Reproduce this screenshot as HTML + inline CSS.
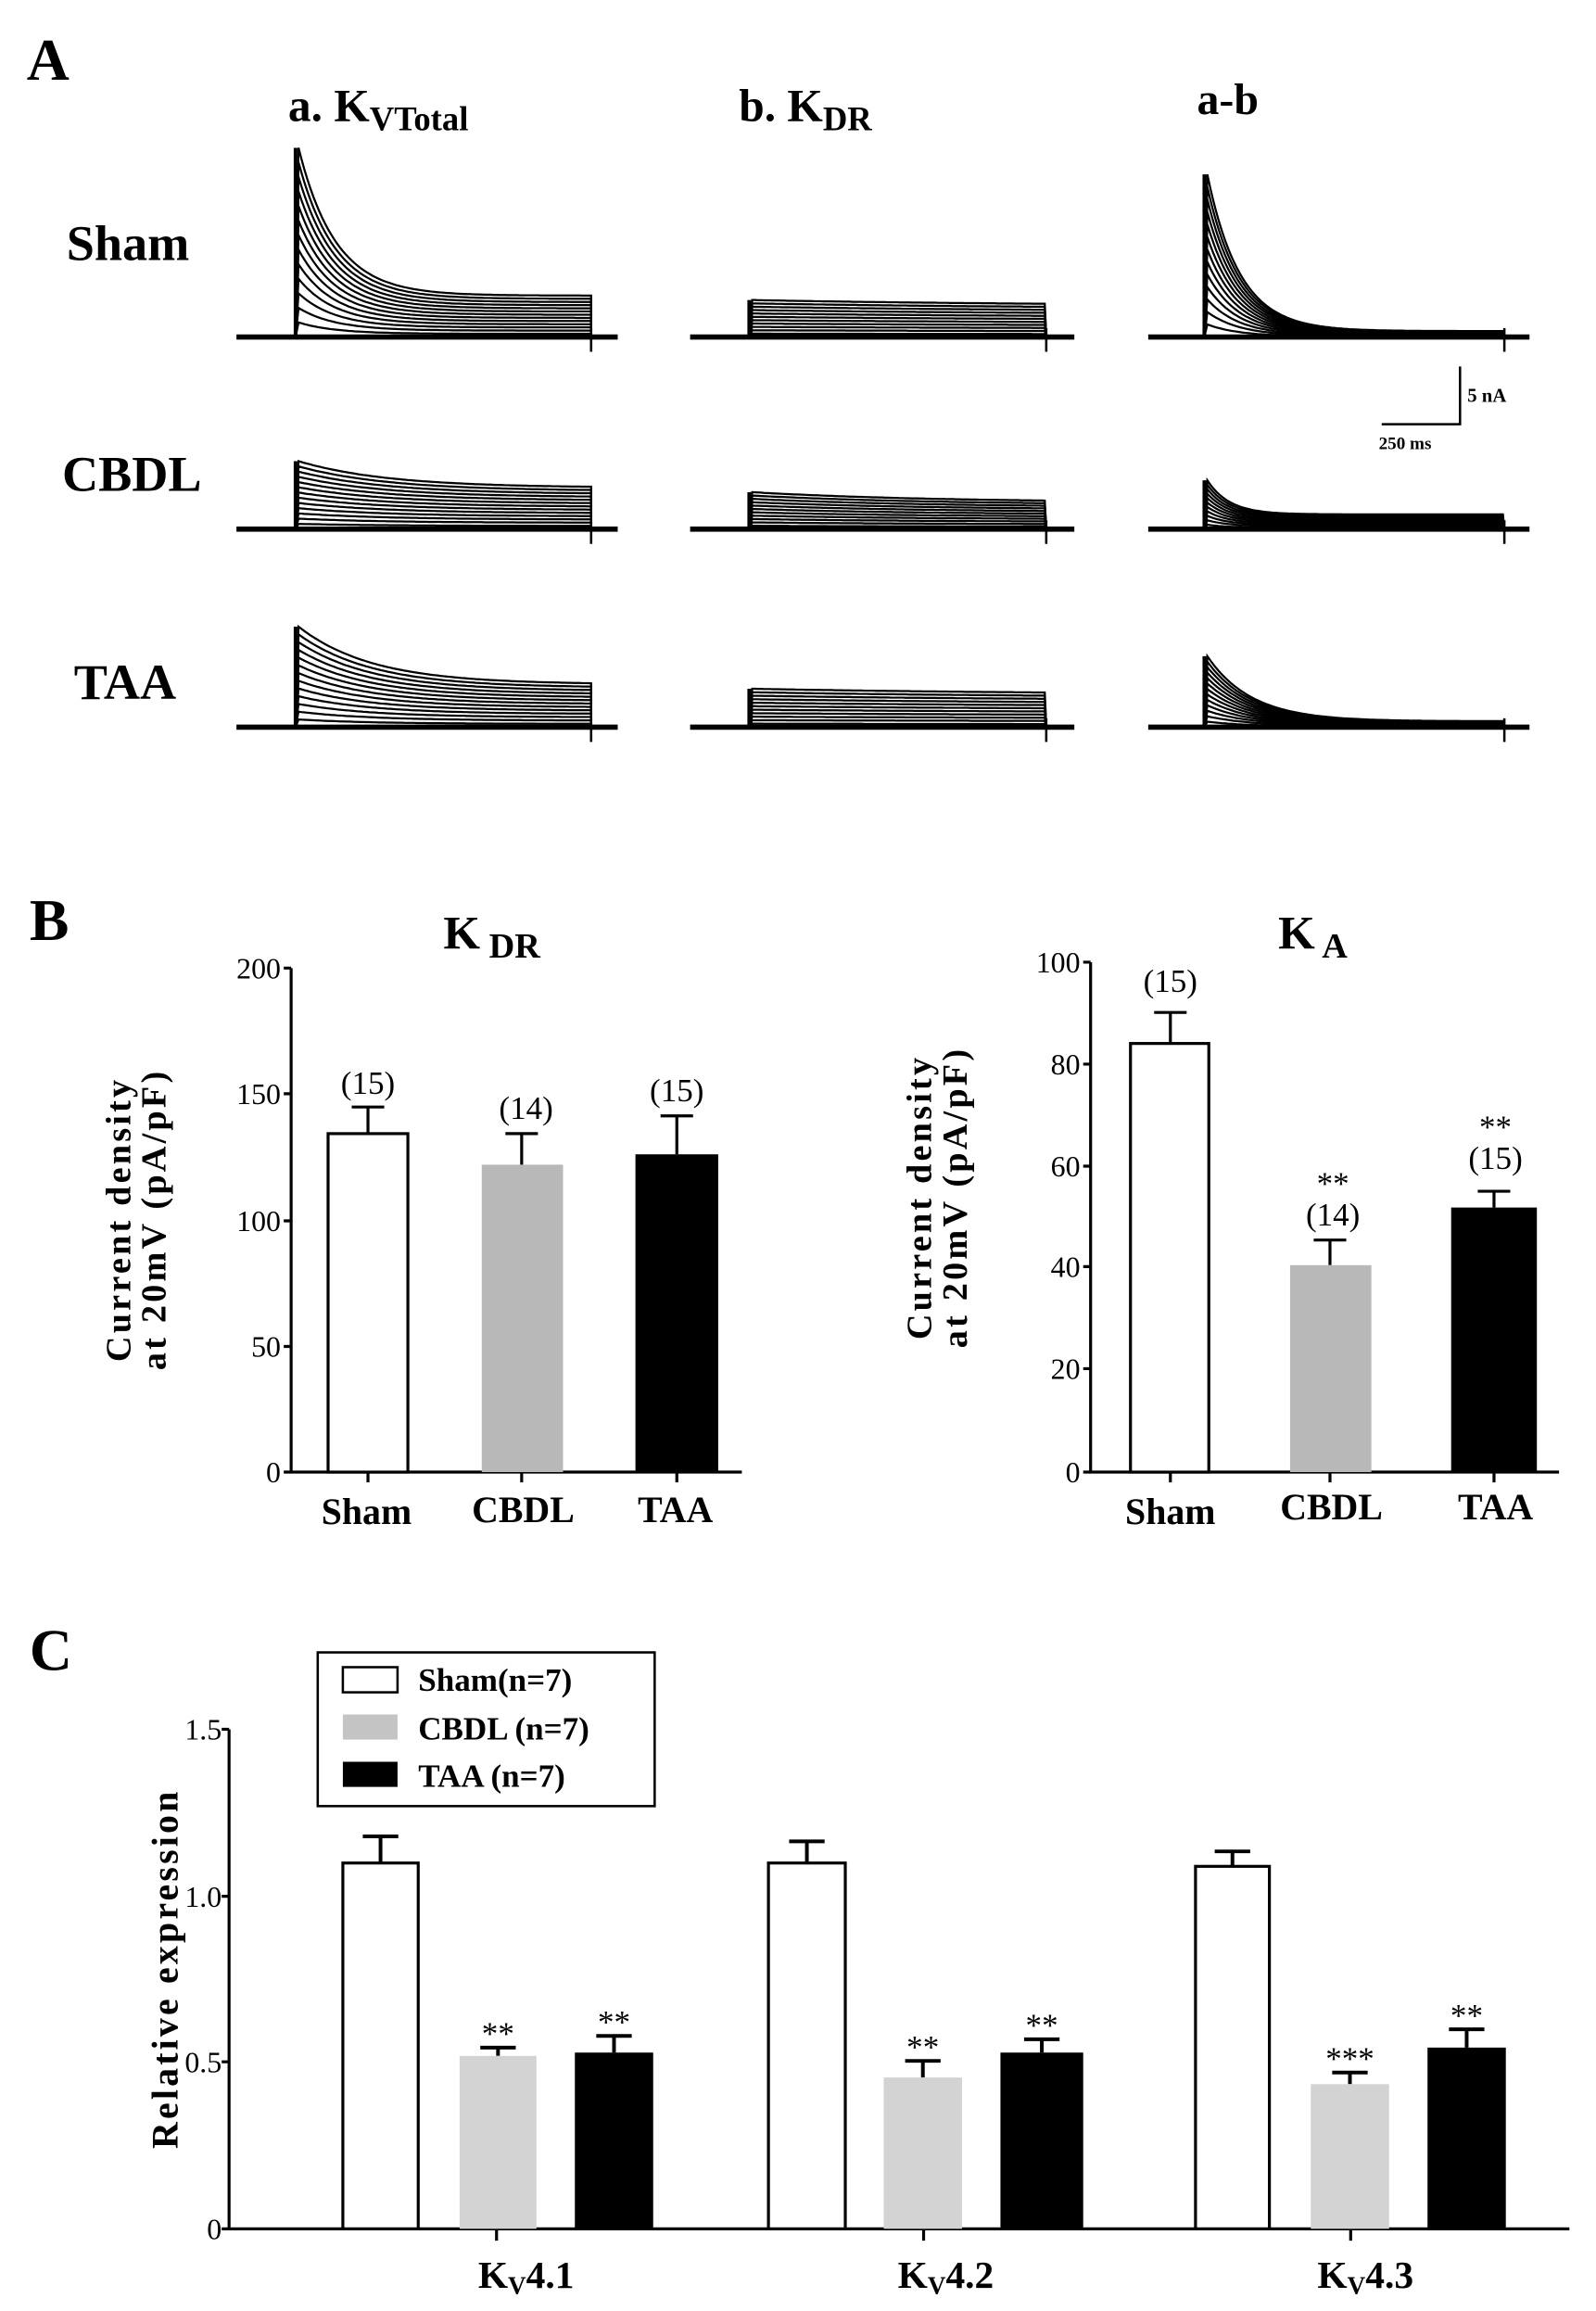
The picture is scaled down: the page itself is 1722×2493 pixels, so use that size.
<!DOCTYPE html>
<html><head><meta charset="utf-8"><style>
html,body{margin:0;padding:0;background:#fff;}
svg{display:block;}
text{font-family:"Liberation Serif",serif;fill:#000;}
.b{font-weight:bold;}
</style></head><body>
<svg id="s" width="1722" height="2493" viewBox="0 0 1080 1563.6" xmlns="http://www.w3.org/2000/svg">
<rect width="1080" height="1564" fill="#fff"/>
<!-- Panel A -->
<text x="18" y="54" class="b" font-size="40">A</text>
<text x="195" y="82" class="b" font-size="31">a. K<tspan font-size="23" dy="6">VTotal</tspan></text>
<text x="500" y="82" class="b" font-size="31">b. K<tspan font-size="23" dy="6">DR</tspan></text>
<text x="810" y="77" class="b" font-size="30">a-b</text>
<text x="45" y="176" class="b" font-size="34">Sham</text>
<text x="42" y="332" class="b" font-size="34">CBDL</text>
<text x="50" y="473" class="b" font-size="34">TAA</text>
<g id="traces" fill="none" stroke="#000" stroke-width="1.4"></g>
<!-- scale bar -->
<path d="M988 248 V287 H935" fill="none" stroke="#000" stroke-width="1.6"/>
<text x="993" y="272" font-size="13" class="b">5 nA</text>
<text x="933" y="304" font-size="12" class="b">250 ms</text>

<!-- Panel B -->
<text x="20" y="636" class="b" font-size="40">B</text>
<text x="300" y="642" class="b" font-size="32">K<tspan font-size="24" dy="6"> DR</tspan></text>
<text x="865" y="642" class="b" font-size="32">K<tspan font-size="24" dy="6"> A</tspan></text>
<g font-size="20" text-anchor="end">
<text x="190" y="662">200</text><text x="190" y="747">150</text><text x="190" y="833">100</text><text x="190" y="918">50</text><text x="190" y="1003">0</text>
<text x="731" y="658">100</text><text x="731" y="727">80</text><text x="731" y="796">60</text><text x="731" y="864">40</text><text x="731" y="933">20</text><text x="731" y="1003">0</text>
</g>
<g stroke="#000" stroke-width="2" fill="none">
<path d="M197 655 V996 H502"/>
<path d="M192 655H197M192 740H197M192 826H197M192 911H197M192 996H197"/>
<path d="M249 996V1003M353 996V1003M458 996V1003"/>
<path d="M738 651 V996 H1055"/>
<path d="M733 651H738M733 720H738M733 789H738M733 857H738M733 926H738M733 996H738"/>
<path d="M792 996V1003M900 996V1003M1011 996V1003"/>
</g>
<rect x="222" y="767" width="54" height="229" fill="#fff" stroke="#000" stroke-width="2"/>
<rect x="326" y="788" width="55" height="208" fill="#b8b8b8"/>
<rect x="430" y="781" width="56" height="215" fill="#000"/>
<g stroke="#000" stroke-width="2">
<path d="M249 767V749M238 749H260"/>
<path d="M353 788V767M342 767H364"/>
<path d="M458 781V755M447 755H469"/>
<path d="M792 706V685M781 685H803"/>
<path d="M900 856V839M889 839H911"/>
<path d="M1011 817V806M1000 806H1022"/>
</g>
<rect x="765" y="706" width="53" height="290" fill="#fff" stroke="#000" stroke-width="2"/>
<rect x="873" y="856" width="55" height="140" fill="#b8b8b8"/>
<rect x="982" y="817" width="58" height="179" fill="#000"/>
<g font-size="22" text-anchor="middle">
<text x="249" y="740">(15)</text><text x="356" y="757">(14)</text><text x="458" y="745">(15)</text>
<text x="792" y="671">(15)</text>
<text x="902" y="808">**</text><text x="902" y="829">(14)</text>
<text x="1012" y="770">**</text><text x="1012" y="791">(15)</text>
</g>
<g font-size="25" class="b" text-anchor="middle">
<text x="248" y="1031">Sham</text><text x="354" y="1030">CBDL</text><text x="457" y="1030">TAA</text>
<text x="792" y="1031">Sham</text><text x="901" y="1028">CBDL</text><text x="1012" y="1028">TAA</text>
</g>
<g font-size="24" class="b" text-anchor="middle" letter-spacing="2">
<text transform="translate(88,825) rotate(-90)">Current density</text>
<text transform="translate(112,825) rotate(-90)">at 20mV (pA/pF)</text>
<text transform="translate(630,810) rotate(-90)">Current density</text>
<text transform="translate(654,810) rotate(-90)">at 20mV (pA/pF)</text>
</g>

<!-- Panel C -->
<text x="20" y="1130" class="b" font-size="40">C</text>
<g font-size="20" text-anchor="end">
<text x="150" y="1177">1.5</text><text x="150" y="1290">1.0</text><text x="150" y="1402">0.5</text><text x="150" y="1515">0</text>
</g>
<g stroke="#000" stroke-width="2" fill="none">
<path d="M155 1170 V1508 H1062"/>
<path d="M150 1170H155M150 1283H155M150 1395H155M150 1508H155"/>
<path d="M336 1508V1516M625 1508V1516M914 1508V1516"/>
</g>
<g id="cbars"></g>
<rect x="215" y="1118" width="228" height="104" fill="#fff" stroke="#000" stroke-width="1.6"/>
<rect x="232" y="1128" width="37" height="17" fill="#fff" stroke="#000" stroke-width="1.6"/>
<rect x="232" y="1160" width="37" height="17" fill="#c4c4c4"/>
<rect x="232" y="1192" width="37" height="17" fill="#000"/>
<g font-size="22" class="b">
<text x="283" y="1144">Sham(n=7)</text>
<text x="283" y="1177">CBDL (n=7)</text>
<text x="283" y="1209">TAA (n=7)</text>
</g>
<g font-size="26" class="b" text-anchor="middle">
<text x="356" y="1548">K<tspan font-size="17" dy="4">V</tspan><tspan dy="-4">4.1</tspan></text>
<text x="640" y="1548">K<tspan font-size="17" dy="4">V</tspan><tspan dy="-4">4.2</tspan></text>
<text x="924" y="1548">K<tspan font-size="17" dy="4">V</tspan><tspan dy="-4">4.3</tspan></text>
</g>
<text transform="translate(120,1332) rotate(-90)" font-size="25" class="b" text-anchor="middle" letter-spacing="2">Relative  expression</text>
</svg>
<script>
var NS="http://www.w3.org/2000/svg";
var tr=document.getElementById("traces");
function el(tag,attrs,parent){var e=document.createElementNS(NS,tag);for(var k in attrs)e.setAttribute(k,attrs[k]);parent.appendChild(e);return e;}
function panel(lx0,lx1,base,x0,x1,pk,ss,tau,n){
  el("path",{d:"M"+lx0+" "+base+"H"+lx1,"stroke-width":3.5},tr);
  el("path",{d:"M"+x1+" "+(base-6)+"V"+(base+10),"stroke-width":1.6},tr);
  for(var i=1;i<=n;i++){
    var f=i/n, P=pk*f, S=ss*f, d="M"+x0+" "+base+" L"+(x0+2)+" "+(base-P).toFixed(1);
    for(var x=x0+2;x<=x1;x+=2){var t=x-x0-2;var y=base-(S+(P-S)*Math.exp(-t/tau));d+=" L"+x+" "+y.toFixed(1);}
    d+=" L"+x1+" "+base;
    el("path",{d:d},tr);
  }
  el("path",{d:"M"+x0+" "+base+"V"+(base-pk),"stroke-width":2.5},tr);
}
panel(160,418,228,200,400,128,28,25,13);
panel(467,727,228,507,708,25,21,200,11);
panel(777,1035,228,815,1018,110,4,22,13);
panel(160,418,358,200,400,46,28,60,13);
panel(467,727,358,507,708,25,18,120,11);
panel(777,1035,358,815,1018,33,10,15,11);
panel(160,418,492,200,400,68,29,50,13);
panel(467,727,492,507,708,26,22,200,11);
panel(777,1035,492,815,1018,48,4,30,13);
var cb=document.getElementById("cbars");
function Y(v){return 1508-v*225;}
var groups=[
 [[232,283,1.1,1.18,""],[311,363,0.52,0.545,"**"],[389,442,0.53,0.58,"**"]],
 [[520,572,1.1,1.165,""],[598,651,0.455,0.505,"**"],[677,733,0.53,0.57,"**"]],
 [[809,859,1.09,1.135,""],[887,940,0.435,0.47,"***"],[966,1019,0.545,0.60,"**"]]];
groups.forEach(function(g){g.forEach(function(b,j){
  var cx=(b[0]+b[1])/2, y=Y(b[2]), ye=Y(b[3]);
  el("path",{d:"M"+cx+" "+y+"V"+ye+"M"+(cx-12)+" "+ye+"H"+(cx+12),stroke:"#000","stroke-width":2.5},cb);
  if(j==0) el("rect",{x:b[0],y:y,width:b[1]-b[0],height:1508-y,fill:"#fff",stroke:"#000","stroke-width":2},cb);
  else el("rect",{x:b[0],y:y,width:b[1]-b[0],height:1508-y,fill:j==1?"#d3d3d3":"#000"},cb);
  if(b[4]){var t=el("text",{x:cx,y:ye-2,"font-size":22,"text-anchor":"middle"},cb);t.textContent=b[4];}
});});
</script>
</body></html>
